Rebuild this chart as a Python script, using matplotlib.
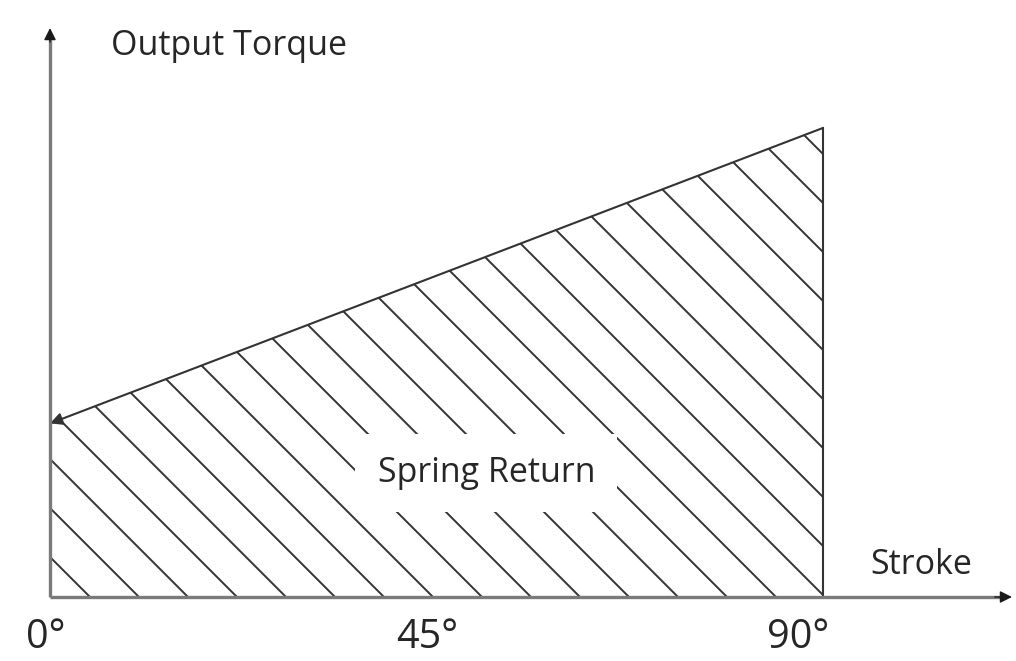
import matplotlib
matplotlib.use("Agg")
import matplotlib.pyplot as plt
from matplotlib.patches import Polygon
import numpy as np

# ---- data ----
stroke = [0, 90]            # degrees
torque = [37, 100]          # relative output torque (spring return)
tick_positions = [0, 45, 90]
tick_labels = ["0°", "45°", "90°"]
y_label = "Output Torque"
x_label = "Stroke"
region_label = "Spring Return"

# ---- style ----
plt.rcParams['font.family'] = ['Open Sans', 'DejaVu Sans']
TXT = '#262626'
AX_COL = '#7a7a7a'
HEAD_COL = '#1a1a1a'
LINE_COL = '#333333'
XMAX, YMAX = 112.0, 121.3

fig = plt.figure(figsize=(10.16, 6.61), dpi=100)
ax = fig.add_axes([50/1016, 64/661, 962/1016, 569/661])
ax.set_xlim(0, XMAX)
ax.set_ylim(0, YMAX)
ax.axis('off')

# shaded (hatched) region polygon
verts = [(stroke[0], 0), (stroke[0], torque[0]), (stroke[1], torque[1]), (stroke[1], 0)]
poly = Polygon(verts, closed=True, facecolor='white', edgecolor='none', zorder=1)
ax.add_patch(poly)

# hatch lines at 45 degrees in screen space, clipped to the polygon
t = ax.transData
px_x = (t.transform((1, 0)) - t.transform((0, 0)))[0]
px_y = (t.transform((0, 1)) - t.transform((0, 0)))[1]
spacing = 49.0
phase = 40.0
right_px = stroke[1] * px_x
top_px = torque[1] * px_y
k = 0
while phase + spacing * k < right_px + top_px + spacing:
    c = phase + spacing * k
    ln, = ax.plot([c / px_x, 0], [0, c / px_y], color=LINE_COL, lw=1.4, zorder=2,
                  solid_capstyle='butt')
    ln.set_clip_path(poly)
    k += 1

# right vertical edge
ax.plot([stroke[1], stroke[1]], [0, torque[1]], color=LINE_COL, lw=1.5, zorder=3)
# top line with arrow at left end
ax.annotate('', xy=(stroke[0], torque[0]), xytext=(stroke[1], torque[1]),
            arrowprops=dict(arrowstyle='-|>', color=LINE_COL, lw=1.5,
                            shrinkA=0, shrinkB=0, mutation_scale=18),
            zorder=3, annotation_clip=False)

# axes lines (grey) with dark arrowheads
ax.plot([0, 0], [0, YMAX - 2], color=AX_COL, lw=2.4, zorder=4, clip_on=False,
        solid_capstyle='butt')
ax.plot([0, XMAX - 1], [0, 0], color=AX_COL, lw=2.4, zorder=4, clip_on=False,
        solid_capstyle='butt')
ax.annotate('', xy=(0, YMAX), xytext=(0, YMAX - 3),
            arrowprops=dict(arrowstyle='-|>', color=HEAD_COL, lw=1.0,
                            shrinkA=0, shrinkB=0, mutation_scale=18),
            zorder=5, annotation_clip=False)
ax.annotate('', xy=(XMAX, 0), xytext=(XMAX - 2, 0),
            arrowprops=dict(arrowstyle='-|>', color=HEAD_COL, lw=1.0,
                            shrinkA=0, shrinkB=0, mutation_scale=18),
            zorder=5, annotation_clip=False)

# labels
FS = 24.5
ax.text(20.8, 115.6, y_label, ha='center', va='baseline', fontsize=FS, color=TXT)
ax.text(101.4, 4.9, x_label, ha='center', va='baseline', fontsize=FS, color=TXT)
ax.text(50.8, 24.5, region_label, ha='center', va='baseline', fontsize=FS, color=TXT,
        zorder=6, bbox=dict(boxstyle='square,pad=0.65', facecolor='white', edgecolor='none'))

label_offsets = [-4, -9, -25]
for pos, lab, off in zip(tick_positions, tick_labels, label_offsets):
    ax.annotate(lab, xy=(pos, 0), xytext=(off, -51), textcoords='offset pixels',
                ha='center', va='baseline', fontsize=28.5, color=TXT, annotation_clip=False)

fig.savefig('out.png', dpi=100, facecolor='white')
